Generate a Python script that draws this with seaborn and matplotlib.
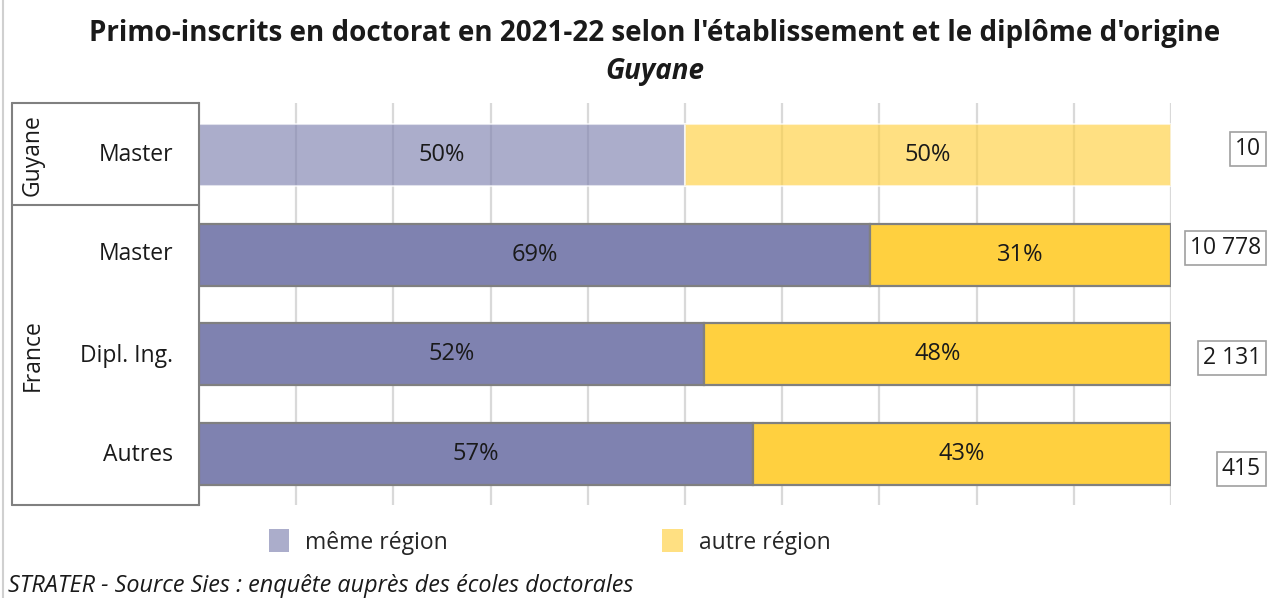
import matplotlib
matplotlib.use("Agg")
import matplotlib.pyplot as plt
import seaborn as sns
import pandas as pd
from matplotlib.patches import Patch
from matplotlib.lines import Line2D

# ---- data ----
groups = ["Guyane", "France", "France", "France"]
diplomes = ["Master", "Master", "Dipl. Ing.", "Autres"]
meme_region = [50, 69, 52, 57]
autre_region = [50, 31, 48, 43]
effectifs = ["10", "10 778", "2 131", "415"]
title = "Primo-inscrits en doctorat en 2021-22 selon l'établissement et le diplôme d'origine"
subtitle = "Guyane"
source = "STRATER - Source Sies : enquête auprès des écoles doctorales"
legend_labels = ["même région", "autre région"]

PURPLE = "#7F82B0"
YELLOW = "#FFD03F"
FONT = ["Open Sans", "DejaVu Sans"]
TXT = "#1a1a1a"
FS = 16.5

sns.set_theme(style="white")
plt.rcParams["font.family"] = FONT

W, H = 1279, 598
fig = plt.figure(figsize=(W / 100, H / 100), dpi=100)
fig.patch.set_facecolor("white")

x0, x1, ytop, ybot = 199, 1171, 103, 505
ax = fig.add_axes([x0 / W, 1 - ybot / H, (x1 - x0) / W, (ybot - ytop) / H])

df = pd.DataFrame({
    "row": [f"{g}|{d}" for g, d in zip(groups, diplomes)],
    "meme": meme_region,
    "autre": autre_region,
})

sns.barplot(data=df, x="meme", y="row", orient="h", color=PURPLE,
            width=0.62, saturation=1, ax=ax, zorder=2)
ax.barh(range(len(df)), df["autre"], left=df["meme"], height=0.62,
        color=YELLOW, zorder=2)

for p in ax.patches:
    yc = p.get_y() + p.get_height() / 2
    if abs(yc) < 0.3:
        p.set_alpha(0.65)
        p.set_edgecolor("white")
        p.set_linewidth(1.5)
    else:
        p.set_edgecolor("#808080")
        p.set_linewidth(1.6)

for i, (m, a) in enumerate(zip(meme_region, autre_region)):
    ax.text(m / 2, i, f"{m}%", ha="center", va="center", fontsize=17,
            color=TXT, zorder=3)
    ax.text(m + a / 2, i, f"{a}%", ha="center", va="center", fontsize=17,
            color=TXT, zorder=3)

ax.set_xlim(0, 100)
ax.set_ylim(3.51, -0.52)
ax.set_xticks(range(0, 101, 10))
ax.grid(axis="x", color="#D9D9D9", linewidth=1.6, zorder=0)
ax.set_axisbelow(True)
ax.tick_params(left=False, bottom=False, labelleft=False, labelbottom=False)
ax.set_xlabel("")
ax.set_ylabel("")
for s in ["top", "right", "bottom"]:
    ax.spines[s].set_visible(False)
ax.spines["left"].set_color("#808080")
ax.spines["left"].set_linewidth(1.5)


def fx(px):
    return px / W


def fy(py):
    return 1 - py / H


for (xa, ya, xb, yb) in [(12, ytop, 199, ytop), (12, ybot, 199, ybot),
                         (12, ytop, 12, ybot), (12, 205, 199, 205)]:
    fig.add_artist(Line2D([fx(xa), fx(xb)], [fy(ya), fy(yb)], color="#808080", lw=1.5))
fig.add_artist(Line2D([fx(3), fx(3)], [0, 1], color="#D0D0D0", lw=1.5))

row_centers = [155, 254, 356, 455]
for d, yc in zip(diplomes, row_centers):
    fig.text(fx(173), fy(yc), d, ha="right", va="center", fontsize=FS, color=TXT)
fig.text(fx(33), fy(155), "Guyane", rotation=90, ha="center", va="center",
         fontsize=FS, color=TXT)
fig.text(fx(33), fy(355), "France", rotation=90, ha="center", va="center",
         fontsize=FS, color=TXT)

box_y = [149, 248, 358, 469]
for t, yc in zip(effectifs, box_y):
    fig.text(fx(1261), fy(yc), t, ha="right", va="center", fontsize=FS, color=TXT,
             bbox=dict(boxstyle="square,pad=0.22", facecolor="white",
                       edgecolor="#A0A0A0", linewidth=1.2))

fig.text(fx(655), fy(33), title, ha="center", va="center", fontsize=20,
         fontweight="bold", color=TXT)
fig.text(fx(655), fy(72), subtitle, ha="center", va="center", fontsize=20,
         fontweight="bold", style="italic", color=TXT)

handles = [Patch(facecolor=PURPLE, alpha=0.65, edgecolor="none"),
           Patch(facecolor=YELLOW, alpha=0.65, edgecolor="none")]
fig.legend(handles, legend_labels, loc="center left",
           bbox_to_anchor=(fx(248), fy(542)), ncol=2, frameon=False,
           fontsize=FS, handlelength=0.9, handleheight=1.15, handletextpad=0.7,
           columnspacing=9.35)

fig.text(fx(8), fy(586), source, ha="left", va="center", fontsize=16.8,
         style="italic", color=TXT)

fig.savefig("out.png", dpi=100, facecolor="white")
